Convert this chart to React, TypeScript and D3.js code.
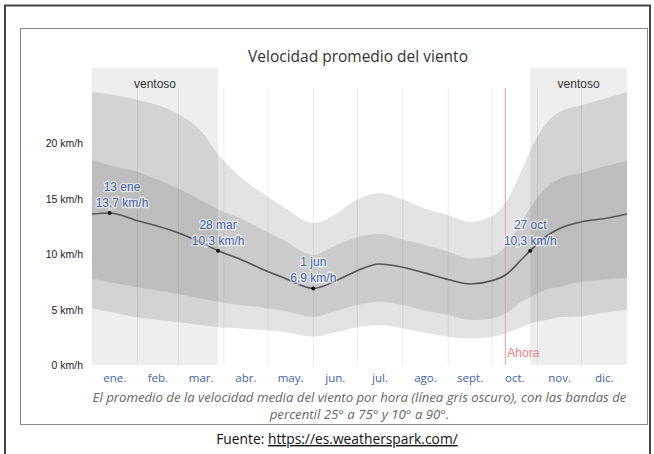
import React from "react";
import * as d3 from "d3";

const days = [0, 12, 31, 45, 59, 75, 86, 100, 115, 130, 151, 165, 181, 196, 212, 227, 243, 258, 273, 283, 293, 299, 310, 319, 334, 350, 365];
const meanWind = [13.6, 13.7, 13.0, 12.5, 11.9, 11.0, 10.3, 9.6, 8.7, 7.9, 6.9, 7.5, 8.5, 9.1, 8.8, 8.3, 7.7, 7.3, 7.6, 8.2, 9.5, 10.3, 11.6, 12.3, 12.9, 13.2, 13.6];
const p90 = [24.6, 24.4, 23.9, 23.4, 22.6, 21.0, 19.0, 17.1, 15.6, 14.3, 12.8, 13.5, 14.9, 15.5, 14.9, 14.1, 13.5, 12.9, 13.4, 14.8, 17.5, 19.3, 21.8, 22.8, 23.4, 24.0, 24.6];
const p75 = [18.5, 18.0, 17.4, 16.7, 15.9, 14.8, 14.0, 13.3, 12.3, 11.3, 9.9, 10.7, 11.5, 11.8, 11.3, 10.8, 10.2, 9.6, 9.8, 10.8, 12.9, 14.2, 16.0, 16.8, 17.3, 17.9, 18.4];
const p25 = [7.8, 7.45, 7.0, 6.7, 6.4, 6.0, 5.7, 5.4, 5.2, 4.9, 4.35, 4.8, 5.4, 5.7, 5.4, 4.9, 4.5, 4.05, 4.2, 4.7, 5.7, 6.1, 6.8, 7.05, 7.5, 7.7, 7.85];
const p10 = [5.1, 4.8, 4.3, 4.05, 3.85, 3.6, 3.4, 3.3, 3.15, 3.0, 2.55, 2.9, 3.4, 3.6, 3.3, 2.9, 2.55, 2.4, 2.55, 2.9, 3.4, 3.75, 4.05, 4.3, 4.4, 4.7, 4.95];

const monthNames = ["ene.", "feb.", "mar.", "abr.", "may.", "jun.", "jul.", "ago.", "sept.", "oct.", "nov.", "dic."];
const monthStarts = [0, 31, 59, 90, 120, 151, 181, 212, 243, 273, 304, 334, 365];
const yTicks = [0, 5, 10, 15, 20];
const windyRanges = [[0, 86], [299, 365]];
const nowDay = 282;
const annotations = [
  { day: 12, date: "13 ene", value: "13,7 km/h" },
  { day: 86, date: "28 mar", value: "10,3 km/h" },
  { day: 151, date: "1 jun", value: "6,9 km/h" },
  { day: 299, date: "27 oct", value: "10,3 km/h" },
];

export default function App() {
  const W = 654, H = 454;
  const x = d3.scaleLinear().domain([0, 365]).range([92, 627]);
  const y = d3.scaleLinear().domain([0, 25]).range([365, 87.5]);
  const plotTop = 88;
  const idx = days.map((_, i) => i);

  const band = (lo: number[], hi: number[]) =>
    d3.area<number>()
      .x((i) => x(days[i]))
      .y0((i) => y(lo[i]))
      .y1((i) => y(hi[i]))
      .curve(d3.curveMonotoneX)(idx) || "";
  const line = d3.line<number>().x((i) => x(days[i])).y((i) => y(meanWind[i])).curve(d3.curveMonotoneX)(idx) || "";

  const annFont = "'Liberation Sans', Arial, sans-serif";
  const cx0 = (x(0) + x(365)) / 2;

  return (
    <svg width={W} height={H} style={{ position: "absolute", left: 0, top: 0, background: "#fff" }}>
      {/* frames */}
      <path d="M5,454 L5,5.5 L650,5.5 L650,454" fill="none" stroke="#444" strokeWidth={2} />
      <rect x={20.5} y={28.5} width={627} height={396} fill="#fff" stroke="#8a8a8a" strokeWidth={1} />

      <text x={358} y={62} textAnchor="middle" fontFamily="'Open Sans', sans-serif" fontSize={15.5} fill="#333">
        Velocidad promedio del viento
      </text>

      {/* windy shading */}
      {windyRanges.map((r, i) => (
        <g key={i}>
          <rect x={x(r[0])} y={68} width={x(r[1]) - x(r[0])} height={y(0) - 68} fill="#000" fillOpacity={0.065} />
          <text x={(x(r[0]) + x(r[1])) / 2} y={88} textAnchor="middle" fontFamily={annFont} fontSize={12} fill="#333">
            ventoso
          </text>
        </g>
      ))}

      {/* grid lines */}
      {monthStarts.slice(1, 12).map((d) => (
        <line key={d} x1={x(d)} x2={x(d)} y1={plotTop} y2={y(0)} stroke="#000" strokeOpacity={0.08} />
      ))}

      {/* bands */}
      <path d={band(p10, p90)} fill="#000" fillOpacity={0.11} />
      <path d={band(p25, p75)} fill="#000" fillOpacity={0.1} />

      {/* now line */}
      <line x1={x(nowDay)} x2={x(nowDay)} y1={plotTop} y2={y(0)} stroke="#f29a9a" strokeWidth={1} />
      <text x={x(nowDay) + 2} y={357} fontFamily={annFont} fontSize={12} fill="#f07f7f">Ahora</text>

      {/* mean line */}
      <path d={line} fill="none" stroke="#555" strokeWidth={1.6} />

      {/* annotations */}
      {annotations.map((a) => {
        const i = days.indexOf(a.day);
        const px = x(a.day), py = y(meanWind[i]);
        const cx = Math.max(px, x(0) + 30);
        return (
          <g key={a.day}>
            <circle cx={px} cy={py} r={2} fill="#111" />
            {[a.date, a.value].map((t, k) => (
              <text key={k} x={cx} y={py - 22 + k * 16} textAnchor="middle" fontFamily={annFont} fontSize={12}
                fill="#3f62ad" stroke="#fff" strokeOpacity={0.6} strokeWidth={2.5} paintOrder="stroke">
                {t}
              </text>
            ))}
          </g>
        );
      })}

      {/* y labels */}
      {yTicks.map((v) => (
        <text key={v} x={83} y={y(v) + 4} textAnchor="end" fontFamily={annFont} fontSize={10.5} fill="#222">
          {`${v} km/h`}
        </text>
      ))}

      {/* month labels */}
      {monthNames.map((m, i) => (
        <text key={m} x={x((monthStarts[i] + monthStarts[i + 1]) / 2)} y={382} textAnchor="middle"
          fontFamily="'Open Sans', sans-serif" fontSize={11.5} fill="#3f62ad">
          {m}
        </text>
      ))}

      {/* caption */}
      <text x={cx0} y={402} textAnchor="middle" fontFamily="'Open Sans', sans-serif" fontStyle="italic" fontSize={13.2} fill="#666">
        El promedio de la velocidad media del viento por hora (línea gris oscuro), con las bandas de
      </text>
      <text x={cx0} y={419} textAnchor="middle" fontFamily="'Open Sans', sans-serif" fontStyle="italic" fontSize={13.2} fill="#666">
        percentil 25° a 75° y 10° a 90°.
      </text>

      <text x={337} y={444} textAnchor="middle" fontFamily="'Open Sans', sans-serif" fontSize={13.8} fill="#111">
        <tspan>Fuente: </tspan>
        <tspan textDecoration="underline">https://es.weatherspark.com/</tspan>
      </text>
    </svg>
  );
}
